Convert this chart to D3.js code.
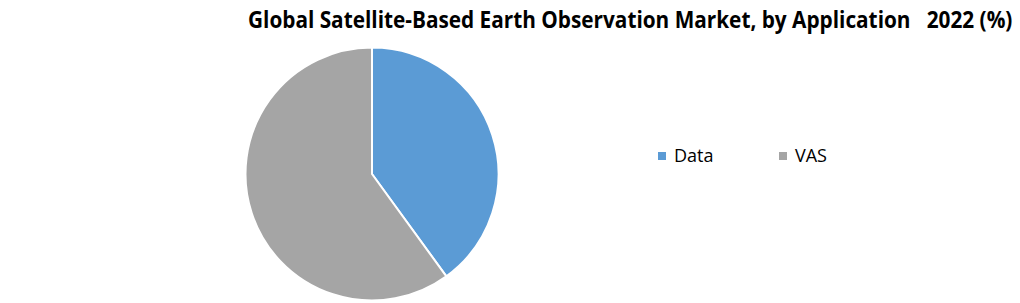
<!DOCTYPE html>
<html><head><meta charset="utf-8">
<script src="https://cdn.jsdelivr.net/npm/d3@7/dist/d3.min.js"></script>
<style>body{margin:0;background:#fff}svg{display:block}</style>
</head><body>
<script>
const categories = ["Data", "VAS"];
const values = [40, 60];
const colors = ["#5B9BD5", "#A5A5A5"];
const title = "Global Satellite-Based Earth Observation Market, by Application   2022 (%)";

const W = 1020, H = 303;
const svg = d3.select("body").append("svg").attr("width", W).attr("height", H);

const titleG = svg.append("g");
const titleT = titleG.append("text")
  .attr("x", 0).attr("y", 0)
  .style("white-space", "pre")
  .attr("font-family", "'Open Sans', sans-serif")
  .attr("font-weight", "bold").attr("font-size", 23).attr("fill", "#000")
  .text(title);
const natW = titleT.node().getComputedTextLength();
titleG.attr("transform", `translate(248,28) scale(${765 / natW},1)`);

const cx = 372, cy = 174, r = 126.5;
const pie = d3.pie().sort(null).value(d => d)(values);
const arc = d3.arc().innerRadius(0).outerRadius(r);
svg.append("g").attr("transform", `translate(${cx},${cy})`)
  .selectAll("path").data(pie).join("path")
  .attr("d", arc)
  .attr("fill", (d, i) => colors[i])
  .attr("stroke", "#fff").attr("stroke-width", 2);

const legX = d3.scalePoint().domain(categories).range([658, 779]);
const lg = svg.append("g").selectAll("g").data(categories).join("g")
  .attr("transform", d => `translate(${legX(d)},152)`);
lg.append("rect").attr("width", 8).attr("height", 8).attr("fill", (d, i) => colors[i]);
lg.append("text").attr("x", 16).attr("y", 9.5)
  .attr("font-family", "'Open Sans', 'Liberation Sans', sans-serif")
  .attr("font-size", 18).attr("fill", "#000")
  .text(d => d);
</script>
</body></html>
